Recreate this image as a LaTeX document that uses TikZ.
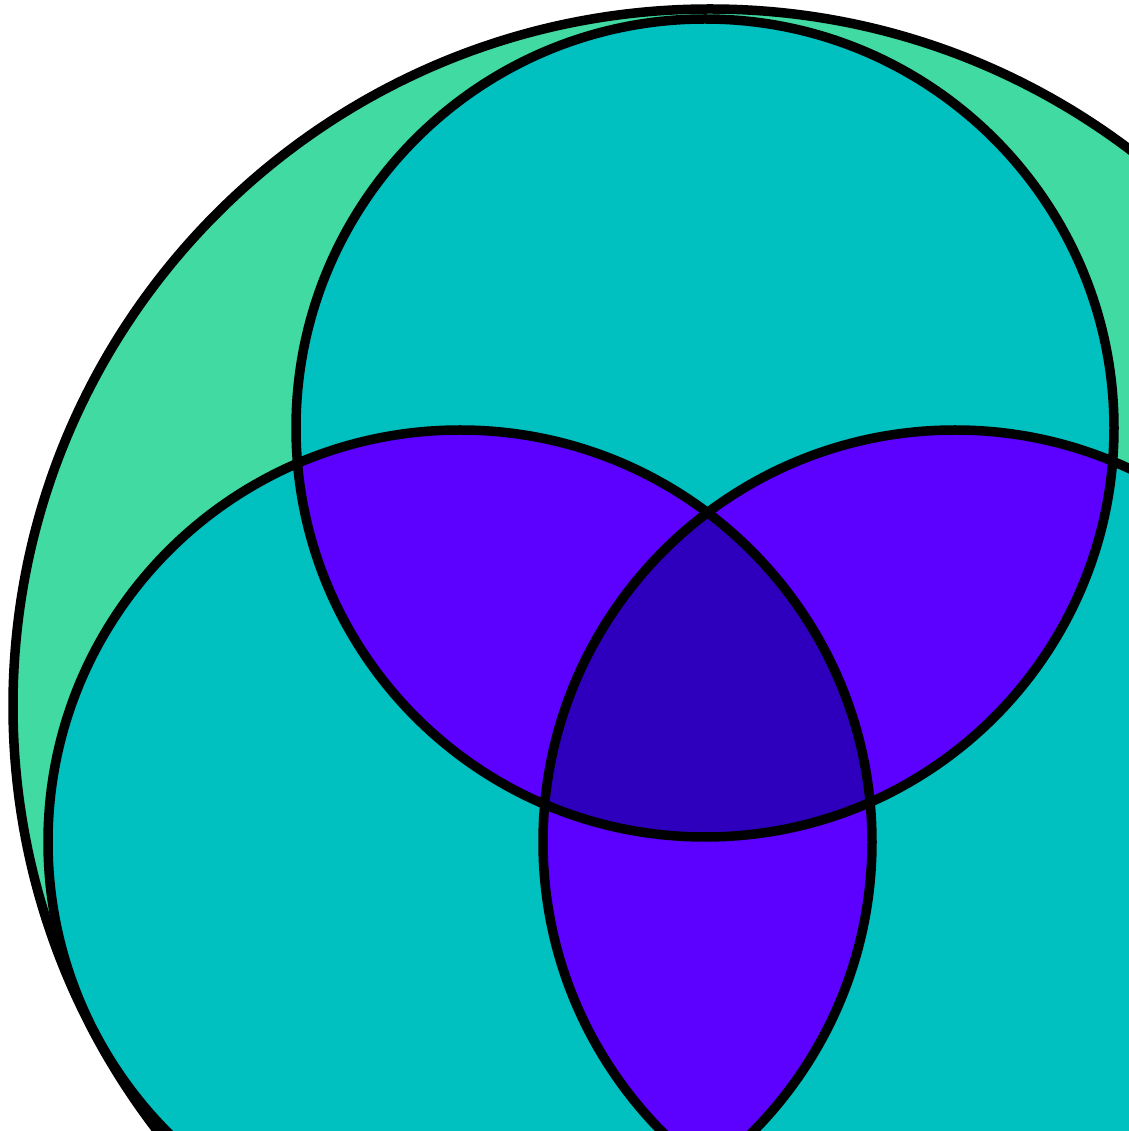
\documentclass[tikz,border=0pt]{standalone}
\definecolor{outergreen}{RGB}{64,218,162}
\definecolor{onecyan}{RGB}{0,192,192}
\definecolor{twopurple}{RGB}{92,0,255}
\definecolor{threedark}{RGB}{46,0,190}
\tikzset{
  ring/.style={draw=black, line width=0.095cm},
}
\def\outerC{(7.10,4.25) circle [radius=6.97cm]}
\def\topC{(7.05,7.03) circle [radius=4.09cm]}
\def\blC{(4.60,2.89) circle [radius=4.12cm]}
\def\brC{(9.55,2.89) circle [radius=4.12cm]}
\begin{document}
\begin{tikzpicture}
\useasboundingbox (0,0) rectangle (11.29,11.31);
\clip (0,0) rectangle (11.29,11.31);
% universe
\fill[outergreen] \outerC;
\begin{scope}
  \clip \outerC;
  % single sets
  \fill[onecyan] \topC;
  \fill[onecyan] \blC;
  \fill[onecyan] \brC;
  % pairwise
  \begin{scope}\clip \topC; \fill[twopurple] \blC; \end{scope}
  \begin{scope}\clip \topC; \fill[twopurple] \brC; \end{scope}
  \begin{scope}\clip \blC; \fill[twopurple] \brC; \end{scope}
  % triple
  \begin{scope}\clip \topC; \clip \blC; \fill[threedark] \brC; \end{scope}
\end{scope}
% outlines
\draw[ring] \outerC;
\draw[ring] \topC;
\draw[ring] \blC;
\draw[ring] \brC;
\end{tikzpicture}
\end{document}
